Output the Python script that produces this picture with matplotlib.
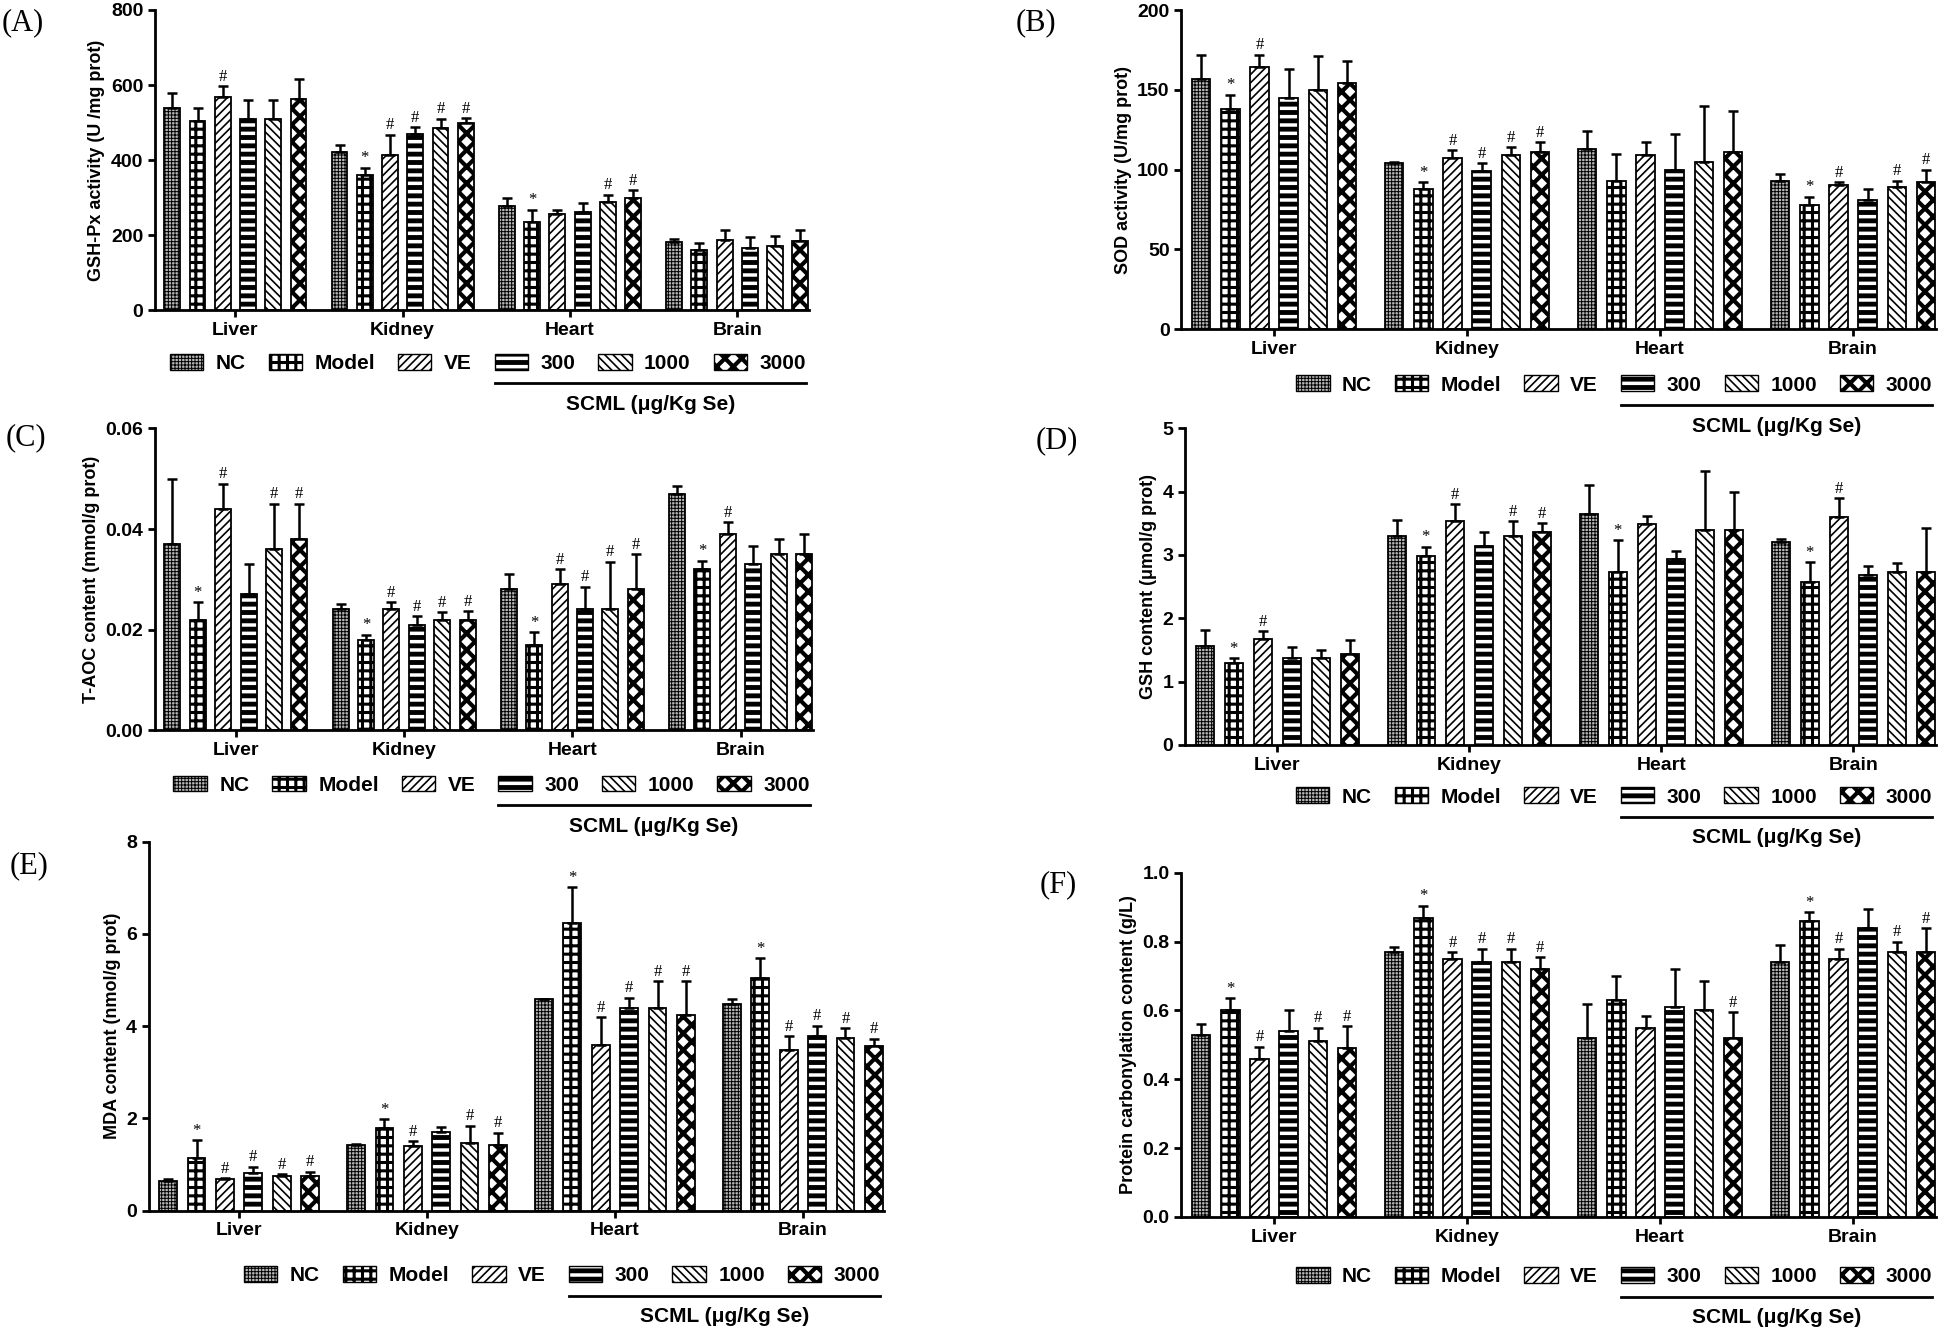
import matplotlib
matplotlib.use("Agg")
import matplotlib.pyplot as plt
from matplotlib import font_manager, transforms
from matplotlib.patches import Patch
from matplotlib.lines import Line2D
import numpy as np

organs = ["Liver", "Kidney", "Heart", "Brain"]
groups = ["NC", "Model", "VE", "300", "1000", "3000"]

# rows = organ (Liver, Kidney, Heart, Brain), columns = group (NC, Model, VE, 300, 1000, 3000)
gshpx_mean = [[540, 503, 567, 510, 510, 563],
              [422, 360, 413, 470, 485, 500],
              [277, 235, 256, 262, 288, 298],
              [181, 162, 188, 165, 172, 184]]
gshpx_err = [[40, 37, 30, 50, 50, 54],
             [18, 20, 55, 18, 25, 12],
             [21, 33, 12, 25, 20, 22],
             [9, 18, 27, 29, 25, 31]]
gshpx_sig = [["", "", "#", "", "", ""],
             ["", "*", "#", "#", "#", "#"],
             ["", "*", "", "", "#", "#"],
             ["", "", "", "", "", ""]]

sod_mean = [[157, 138, 164, 145, 150, 154],
            [104, 88, 107, 99, 109, 111],
            [113, 93, 109, 100, 105, 111],
            [93, 78, 90, 81, 89, 92]]
sod_err = [[15, 9, 8, 18, 21, 14],
           [1, 4, 5, 5, 5, 6],
           [11, 17, 8, 22, 35, 26],
           [4, 5, 2, 7, 4, 8]]
sod_sig = [["", "*", "#", "", "", ""],
           ["", "*", "#", "#", "#", "#"],
           ["", "", "", "", "", ""],
           ["", "*", "#", "", "#", "#"]]

taoc_mean = [[0.037, 0.022, 0.044, 0.027, 0.036, 0.038],
             [0.024, 0.018, 0.024, 0.021, 0.022, 0.022],
             [0.028, 0.017, 0.029, 0.024, 0.024, 0.028],
             [0.047, 0.032, 0.039, 0.033, 0.035, 0.035]]
taoc_err = [[0.013, 0.0035, 0.005, 0.006, 0.009, 0.007],
            [0.001, 0.001, 0.0015, 0.0017, 0.0014, 0.0017],
            [0.003, 0.0025, 0.003, 0.0045, 0.0095, 0.007],
            [0.0015, 0.0017, 0.0023, 0.0037, 0.003, 0.004]]
taoc_sig = [["", "*", "#", "", "#", "#"],
            ["", "*", "#", "#", "#", "#"],
            ["", "*", "#", "#", "#", "#"],
            ["", "*", "#", "", "", ""]]

gsh_mean = [[1.57, 1.30, 1.67, 1.38, 1.38, 1.43],
            [3.30, 2.98, 3.53, 3.14, 3.30, 3.37],
            [3.64, 2.73, 3.49, 2.94, 3.40, 3.40],
            [3.21, 2.58, 3.60, 2.69, 2.73, 2.73]]
gsh_err = [[0.25, 0.07, 0.13, 0.17, 0.12, 0.22],
           [0.25, 0.15, 0.27, 0.22, 0.23, 0.13],
           [0.47, 0.50, 0.13, 0.12, 0.93, 0.59],
           [0.05, 0.31, 0.30, 0.14, 0.15, 0.70]]
gsh_sig = [["", "*", "#", "", "", ""],
           ["", "*", "#", "", "#", "#"],
           ["", "*", "", "", "", ""],
           ["", "*", "#", "", "", ""]]

mda_mean = [[0.65, 1.15, 0.68, 0.82, 0.75, 0.74],
            [1.42, 1.80, 1.39, 1.70, 1.47, 1.42],
            [4.58, 6.23, 3.60, 4.40, 4.40, 4.24],
            [4.48, 5.05, 3.48, 3.78, 3.74, 3.58]]
mda_err = [[0.03, 0.37, 0.02, 0.13, 0.04, 0.10],
           [0.02, 0.18, 0.12, 0.12, 0.37, 0.27],
           [0.02, 0.79, 0.59, 0.22, 0.57, 0.73],
           [0.10, 0.43, 0.30, 0.23, 0.21, 0.15]]
mda_sig = [["", "*", "#", "#", "#", "#"],
           ["", "*", "#", "", "#", "#"],
           ["", "*", "#", "#", "#", "#"],
           ["", "*", "#", "#", "#", "#"]]

pc_mean = [[0.53, 0.60, 0.46, 0.54, 0.51, 0.49],
           [0.77, 0.87, 0.75, 0.74, 0.74, 0.72],
           [0.52, 0.63, 0.55, 0.61, 0.60, 0.52],
           [0.74, 0.86, 0.75, 0.84, 0.77, 0.77]]
pc_err = [[0.03, 0.035, 0.035, 0.06, 0.04, 0.065],
          [0.015, 0.035, 0.02, 0.04, 0.04, 0.035],
          [0.10, 0.07, 0.035, 0.11, 0.085, 0.075],
          [0.05, 0.025, 0.03, 0.055, 0.03, 0.07]]
pc_sig = [["", "*", "#", "", "#", "#"],
          ["", "*", "#", "#", "#", "#"],
          ["", "", "", "", "", "#"],
          ["", "*", "#", "", "#", "#"]]

names = {f.name for f in font_manager.fontManager.ttflist}
narrow = "Liberation Sans Narrow" if "Liberation Sans Narrow" in names else "Liberation Sans"
plt.rcParams["font.family"] = narrow
plt.rcParams["font.weight"] = "bold"

# facecolor, hatch, hatch linewidth for each group
styles = [("#b8b8b8", "+++++", 0.7),
          ("white", "++", 2.2),
          ("white", "////", 1.2),
          ("white", "--", 3.5),
          ("white", "\\\\\\\\", 1.2),
          ("white", "xx", 3.0)]

fig = plt.figure(figsize=(19.46, 13.36), dpi=100)

# panel settings: axes rect, ymax, ticks, tick format, ylabel, letter, letter pos, legend drop (px)
panels = [
    ([0.0797, 0.7677, 0.3361, 0.2249], gshpx_mean, gshpx_err, gshpx_sig, 800, np.arange(0, 801, 200), "{:.0f}",
     "GSH-Px activity (U /mg prot)", "(A)", (0.001, 0.983), 53),
    ([0.6071, 0.7537, 0.3878, 0.2388], sod_mean, sod_err, sod_sig, 200, np.arange(0, 201, 50), "{:.0f}",
     "SOD activity (U/mg prot)", "(B)", (0.522, 0.983), 56),
    ([0.0797, 0.4535, 0.3380, 0.2258], taoc_mean, taoc_err, taoc_sig, 0.06, [0, 0.02, 0.04, 0.06], "{:.2f}",
     "T-AOC content (mmol/g prot)", "(C)", (0.003, 0.672), 55),
    ([0.6090, 0.4424, 0.3858, 0.2370], gsh_mean, gsh_err, gsh_sig, 5, np.arange(0, 6), "{:.0f}",
     "GSH content (\u03bcmol/g prot)", "(D)", (0.532, 0.670), 52),
    ([0.0765, 0.0939, 0.3776, 0.2760], mda_mean, mda_err, mda_sig, 8, np.arange(0, 9, 2), "{:.0f}",
     "MDA content (nmol/g prot)", "(E)", (0.005, 0.352), 65),
    ([0.6071, 0.0892, 0.3878, 0.2574], pc_mean, pc_err, pc_sig, 1.0, np.arange(0, 1.01, 0.2), "{:.1f}",
     "Protein carbonylation content (g/L)", "(F)", (0.534, 0.338), 60),
]

step = 0.151
width = 0.095
pos = np.arange(len(organs))
legends = []

for rect, mean, err, sig, ymax, ticks, fmt, ylabel, letter, lpos, drop in panels:
    ax = fig.add_axes(rect)
    mean = np.array(mean)
    err = np.array(err)
    for i, (fc, h, hlw) in enumerate(styles):
        x = pos + (i - 2.5) * step
        bars = ax.bar(x, mean[:, i], width, color=fc, edgecolor="black", linewidth=1.3, hatch=h, zorder=2)
        for b in bars:
            b.set_hatch_linewidth(hlw)
        ax.errorbar(x, mean[:, i], yerr=[np.zeros(4), err[:, i]], fmt="none", ecolor="black",
                    elinewidth=1.8, capsize=3.5, capthick=1.8, zorder=3)
        for j in range(len(organs)):
            if sig[j][i]:
                ax.annotate(sig[j][i], (x[j], mean[j, i] + err[j, i]), xytext=(0, 1),
                            textcoords="offset points", ha="center", va="bottom",
                            fontsize=12, family="Liberation Serif", fontweight="normal")

    ax.set_xlim(-0.48, 3.43)
    ax.set_ylim(0, ymax)
    ax.set_xticks(pos)
    ax.set_xticklabels(organs, fontsize=14)
    ax.set_yticks(ticks)
    ax.set_yticklabels([fmt.format(t) for t in ticks], fontsize=14)
    ax.tick_params(width=2, length=5, direction="out")
    ax.spines[["top", "right"]].set_visible(False)
    ax.spines[["left", "bottom"]].set_linewidth(2)
    ax.set_ylabel(ylabel, family="Liberation Sans", fontweight="bold", fontsize=13)
    fig.text(lpos[0], lpos[1], letter, family="Liberation Serif", fontweight="normal",
             fontsize=22, va="center", ha="left")

    handles = [Patch(facecolor=fc, edgecolor="black", hatch=h, label=g)
               for (fc, h, hlw), g in zip(styles, groups)]
    leg = ax.legend(handles=handles, ncol=6, loc="center right", bbox_to_anchor=(0.995, 0),
                    bbox_transform=transforms.offset_copy(ax.transAxes, fig=fig, y=-drop, units="dots"),
                    frameon=False, fontsize=15, handlelength=1.6, handleheight=0.8,
                    handletextpad=0.6, columnspacing=1.1, borderpad=0, borderaxespad=0)
    for p, s in zip(leg.legend_handles, styles):
        p.set_hatch_linewidth(s[2])
    legends.append(leg)

# line + label under the SCML dose groups
fig.canvas.draw()
inv = fig.transFigure.inverted()
for leg in legends:
    b0 = leg.legend_handles[3].get_window_extent()
    b1 = leg.get_texts()[5].get_window_extent()
    lb = leg.get_window_extent()
    yc = (lb.y0 + lb.y1) / 2
    (x0, y0) = inv.transform((b0.x0, yc - 20))
    (x1, _) = inv.transform((b1.x1, yc - 20))
    (_, y2) = inv.transform((0, yc - 41))
    fig.add_artist(Line2D([x0, x1], [y0, y0], color="black", lw=2, transform=fig.transFigure))
    fig.text((x0 + x1) / 2, y2, "SCML (\u03bcg/Kg Se)", ha="center", va="center", fontsize=15)

fig.savefig("out.png", dpi=100)
